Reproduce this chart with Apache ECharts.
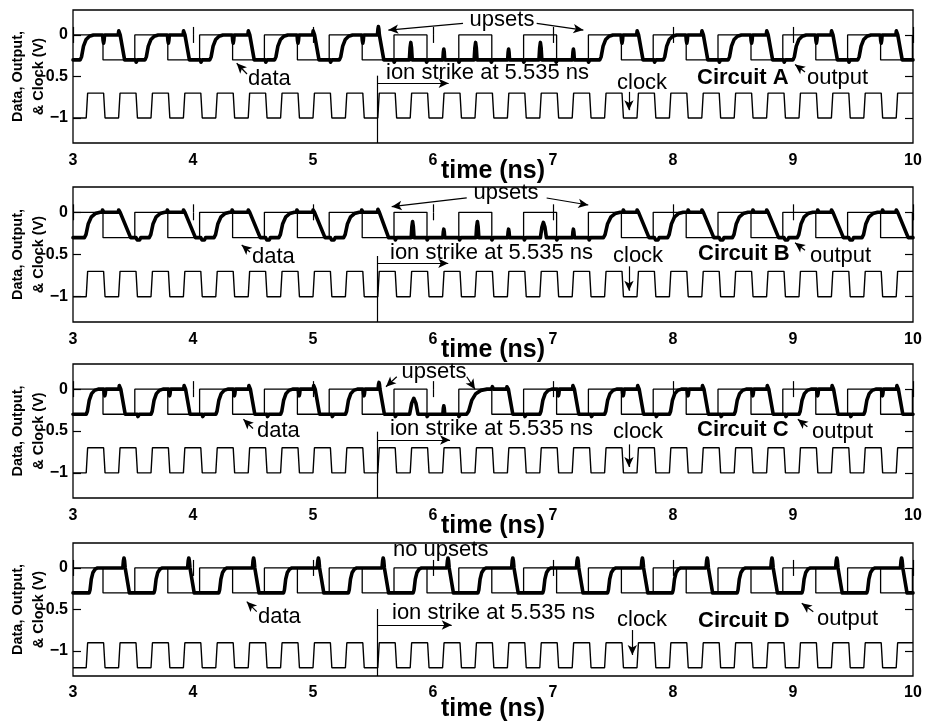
<!DOCTYPE html>
<html>
<head>
<meta charset="utf-8">
<script src="https://cdn.jsdelivr.net/npm/echarts/dist/echarts.min.js"></script>
<style>
  html, body { margin: 0; padding: 0; background: #fff; }
  #chart { width: 930px; height: 721px; }
</style>
</head>
<body>
<div id="chart"></div>
<script>
// ---------------- values (ns, V) ----------------
const timeTicks = [3, 4, 5, 6, 7, 8, 9, 10];
const voltTicks = [0, -0.5, -1];
const strikeTime = 5.535;

// clock edges (ns)
const clockRise = [3.11, 3.38, 3.65, 3.92, 4.19, 4.46, 4.73, 5.00, 5.27, 5.54, 5.81, 6.08, 6.35,
  6.62, 6.89, 7.16, 7.43, 7.70, 7.97, 8.24, 8.51, 8.78, 9.05, 9.32, 9.59, 9.86];
const clockFall = [3.255, 3.525, 3.795, 4.065, 4.335, 4.605, 4.875, 5.145, 5.415, 5.685, 5.955,
  6.225, 6.495, 6.765, 7.035, 7.305, 7.575, 7.845, 8.115, 8.385, 8.655, 8.925, 9.195, 9.465, 9.735];
// clock [low, high] levels for circuits A-C and for circuit D
const clockLevelABC = [-1.0, -0.7];
const clockLevelD = [-1.2, -0.9];

// data input edges (0 V high, -0.3 V low)
const dataFall = [3.25, 3.79, 4.33, 4.87, 5.41, 5.95, 6.49, 7.03, 7.57, 8.11, 8.65, 9.19, 9.73];
const dataRise = [3.515, 4.055, 4.595, 5.135, 5.675, 6.215, 6.755, 7.295, 7.835, 8.375, 8.915, 9.455, 9.995];

// output transitions: [start, end] of each rise / fall, glitches [t, base, peak, halfWidth]
const riseA = [[3.06, 3.17], [3.60, 3.71], [4.14, 4.25], [4.68, 4.79], [5.22, 5.33],
  [7.39, 7.50], [7.92, 8.03], [8.46, 8.57], [9.00, 9.11], [9.54, 9.65]];
const fallA = [[3.395, 3.43], [3.935, 3.97], [4.475, 4.51], [5.015, 5.05], [5.555, 5.59],
  [7.715, 7.75], [8.255, 8.29], [8.795, 8.83], [9.335, 9.37], [9.875, 9.91]];
const glitchA = [
  [3.255, 0, -0.10], [3.385, 0, 0.07], [3.53, -0.3, -0.34],
  [3.795, 0, -0.10], [3.925, 0, 0.07], [4.07, -0.3, -0.34],
  [4.335, 0, -0.10], [4.465, 0, 0.07], [4.61, -0.3, -0.34],
  [4.875, 0, -0.10], [5.005, 0, 0.07], [5.15, -0.3, -0.34],
  [5.415, 0, -0.10], [5.545, 0, 0.10],
  [5.68, -0.3, -0.34], [5.815, -0.3, -0.09, 0.012], [5.95, -0.3, -0.34], [6.09, -0.3, -0.17],
  [6.22, -0.3, -0.34], [6.355, -0.3, -0.09, 0.012], [6.49, -0.3, -0.34], [6.63, -0.3, -0.17],
  [6.76, -0.3, -0.34], [6.895, -0.3, -0.09, 0.012], [7.03, -0.3, -0.34], [7.17, -0.3, -0.17],
  [7.30, -0.3, -0.34],
  [7.575, 0, -0.10], [7.705, 0, 0.07], [7.85, -0.3, -0.34],
  [8.115, 0, -0.10], [8.245, 0, 0.07], [8.39, -0.3, -0.34],
  [8.655, 0, -0.10], [8.785, 0, 0.07], [8.93, -0.3, -0.34],
  [9.195, 0, -0.10], [9.325, 0, 0.07], [9.47, -0.3, -0.34],
  [9.735, 0, -0.10], [9.865, 0, 0.07]
];

const riseB = [[3.095, 3.225], [3.635, 3.765], [4.175, 4.305], [4.715, 4.845], [5.255, 5.385],
  [7.42, 7.56], [7.955, 8.085], [8.495, 8.625], [9.035, 9.165], [9.575, 9.705]];
const fallB = [[3.40, 3.48], [3.94, 4.02], [4.48, 4.56], [5.02, 5.10], [5.56, 5.63],
  [7.72, 7.80], [8.26, 8.34], [8.80, 8.88], [9.34, 9.42], [9.88, 9.96]];
const glitchB = [
  [3.25, 0, 0.04], [3.385, 0, 0.04], [3.545, -0.3, -0.34, 0.02],
  [3.79, 0, 0.04], [3.925, 0, 0.04], [4.085, -0.3, -0.34, 0.02],
  [4.33, 0, 0.04], [4.465, 0, 0.04], [4.625, -0.3, -0.34, 0.02],
  [4.87, 0, 0.04], [5.005, 0, 0.04], [5.165, -0.3, -0.34, 0.02],
  [5.41, 0, 0.04], [5.545, 0, 0.05],
  [5.69, -0.3, -0.34], [5.83, -0.3, -0.11, 0.012], [5.955, -0.3, -0.34], [6.09, -0.3, -0.20],
  [6.225, -0.3, -0.34], [6.37, -0.3, -0.11, 0.012], [6.495, -0.3, -0.34], [6.63, -0.3, -0.20],
  [6.765, -0.3, -0.34], [6.92, -0.3, -0.12, 0.025], [7.035, -0.3, -0.34], [7.17, -0.3, -0.20],
  [7.305, -0.3, -0.34],
  [7.59, 0, 0.04], [7.705, 0, 0.04], [7.865, -0.3, -0.34, 0.02],
  [8.13, 0, 0.04], [8.245, 0, 0.04], [8.405, -0.3, -0.34, 0.02],
  [8.67, 0, 0.04], [8.785, 0, 0.04], [8.945, -0.3, -0.34, 0.02],
  [9.21, 0, 0.04], [9.325, 0, 0.04], [9.485, -0.3, -0.34, 0.02],
  [9.75, 0, 0.04], [9.865, 0, 0.04]
];

const riseC = [[3.11, 3.21], [3.65, 3.75], [4.19, 4.29], [4.73, 4.83], [5.27, 5.37], [6.28, 6.45],
  [6.89, 6.99], [7.43, 7.53], [7.97, 8.07], [8.51, 8.61], [9.05, 9.15], [9.59, 9.69]];
const fallC = [[3.40, 3.435], [3.94, 3.975], [4.48, 4.515], [5.02, 5.055], [5.56, 5.595], [6.63, 6.665],
  [7.18, 7.215], [7.72, 7.755], [8.26, 8.295], [8.80, 8.835], [9.34, 9.375], [9.88, 9.915]];
const glitchC = [
  [3.265, 0, -0.08], [3.39, 0, 0.06], [3.545, -0.3, -0.34],
  [3.805, 0, -0.08], [3.93, 0, 0.06], [4.085, -0.3, -0.34],
  [4.345, 0, -0.08], [4.47, 0, 0.06], [4.625, -0.3, -0.34],
  [4.885, 0, -0.08], [5.01, 0, 0.06], [5.165, -0.3, -0.34],
  [5.425, 0, -0.08], [5.55, 0, 0.08],
  [5.69, -0.3, -0.34], [5.84, -0.3, -0.11, 0.035], [5.955, -0.3, -0.34], [6.09, -0.3, -0.20],
  [6.22, -0.3, -0.34],
  [6.495, 0, 0.03], [6.62, 0, 0.04], [6.77, -0.3, -0.34],
  [7.045, 0, -0.08], [7.17, 0, 0.06], [7.325, -0.3, -0.34],
  [7.585, 0, -0.08], [7.71, 0, 0.06], [7.865, -0.3, -0.34],
  [8.125, 0, -0.08], [8.25, 0, 0.06], [8.405, -0.3, -0.34],
  [8.665, 0, -0.08], [8.79, 0, 0.06], [8.945, -0.3, -0.34],
  [9.205, 0, -0.08], [9.33, 0, 0.06], [9.485, -0.3, -0.34],
  [9.745, 0, -0.08], [9.87, 0, 0.06]
];

const riseD = [[3.135, 3.205], [3.675, 3.745], [4.215, 4.285], [4.755, 4.825], [5.295, 5.365],
  [5.835, 5.905], [6.375, 6.445], [6.915, 6.985], [7.455, 7.525], [7.995, 8.065], [8.535, 8.605],
  [9.075, 9.145], [9.615, 9.685]];
const fallD = [[3.435, 3.47], [3.975, 4.01], [4.515, 4.55], [5.055, 5.09], [5.595, 5.63],
  [6.135, 6.17], [6.675, 6.71], [7.215, 7.25], [7.755, 7.79], [8.295, 8.33], [8.835, 8.87],
  [9.375, 9.41], [9.915, 9.95]];
const glitchD = [
  [3.425, 0, 0.12, 0.01], [3.555, -0.3, -0.32],
  [3.965, 0, 0.12, 0.01], [4.095, -0.3, -0.32],
  [4.505, 0, 0.12, 0.01], [4.635, -0.3, -0.32],
  [5.045, 0, 0.12, 0.01], [5.175, -0.3, -0.32],
  [5.585, 0, 0.12, 0.01], [5.715, -0.3, -0.32],
  [6.125, 0, 0.12, 0.01], [6.255, -0.3, -0.32],
  [6.665, 0, 0.12, 0.01], [6.795, -0.3, -0.32],
  [7.205, 0, 0.12, 0.01], [7.335, -0.3, -0.32],
  [7.745, 0, 0.12, 0.01], [7.875, -0.3, -0.32],
  [8.285, 0, 0.12, 0.01], [8.415, -0.3, -0.32],
  [8.825, 0, 0.12, 0.01], [8.955, -0.3, -0.32],
  [9.365, 0, 0.12, 0.01], [9.495, -0.3, -0.32],
  [9.905, 0, 0.12, 0.01]
];

// ---------------- waveform builders ----------------
const T0 = 3, T1 = 10;
const OUT_LO = -0.3, OUT_HI = 0;
// rounded charging curve used for the output rising edges
const RISE_SHAPE = [[0, 0], [0.1, 0.12], [0.25, 0.55], [0.45, 0.82], [0.7, 0.95], [1, 1]];
const BUMP_SHAPE = [[-1, 0], [-0.5, 0.7], [0, 1], [0.5, 0.7], [1, 0]];
const CLOCK_EDGE = 0.012;

function squareWave(rises, falls, lo, hi, startHigh, edge) {
  const ev = rises.map(t => [t, lo, hi]).concat(falls.map(t => [t, hi, lo]));
  ev.sort((a, b) => a[0] - b[0]);
  let level = startHigh ? hi : lo;
  const pts = [[T0, level]];
  ev.forEach(([t, a, b]) => {
    pts.push([t, a]);
    pts.push([Math.min(t + edge, T1), b]);
    level = b;
  });
  pts.push([T1, level]);
  return pts;
}

function outputWave(rises, falls, glitches) {
  const pts = [[T0, OUT_LO]];
  rises.forEach(([s, e]) => RISE_SHAPE.forEach(([u, f]) =>
    pts.push([s + u * (e - s), OUT_LO + f * (OUT_HI - OUT_LO)])));
  falls.forEach(([s, e]) => { pts.push([s, OUT_HI]); pts.push([e, OUT_LO]); });
  glitches.forEach(([t, base, peak, hw]) => {
    const w = hw || 0.008;
    BUMP_SHAPE.forEach(([u, f]) => pts.push([t + u * w, base + f * (peak - base)]));
  });
  pts.sort((a, b) => a[0] - b[0]);
  pts.push([T1, pts[pts.length - 1][1]]);
  return pts;
}

const dataWave = squareWave(dataRise, dataFall, OUT_LO, OUT_HI, true, 0);
const clockABC = squareWave(clockRise, clockFall, clockLevelABC[0], clockLevelABC[1], false, CLOCK_EDGE);
const clockD = squareWave(clockRise, clockFall, clockLevelD[0], clockLevelD[1], false, CLOCK_EDGE);

// ---------------- layout ----------------
const FONT = '"Liberation Sans", Arial, Helvetica, sans-serif';
const INK = '#000';

const panels = [
  { top: 10, height: 133, nameGap: 15.5, labelMargin: 10, clock: clockABC,
    out: outputWave(riseA, fallA, glitchA), strikeTop: -0.49, strikeArrowY: -0.582, strikeArrowEnd: 6.13,
    arrows: [[[6.25, 0.14], [5.628, 0.059]], [[6.864, 0.14], [7.253, 0.059]],
             [[4.45, -0.47], [4.364, -0.341]], [[7.633, -0.685], [7.633, -0.905]],
             [[9.10, -0.446], [9.017, -0.356]]],
    texts: [['upsets', 502, 20, 'center'], ['ion strike at 5.535 ns', 386, 72.5],
            ['data', 248, 79], ['clock', 617, 82.5], ['Circuit A', 697, 77.5, 'left', true],
            ['output', 807, 78]] },
  { top: 187, height: 135, nameGap: 16, labelMargin: 10, clock: clockABC,
    out: outputWave(riseB, fallB, glitchB), strikeTop: -0.518, strikeArrowY: -0.604, strikeArrowEnd: 6.127,
    arrows: [[[6.281, 0.170], [5.656, 0.067]], [[6.947, 0.170], [7.294, 0.087]],
             [[4.475, -0.47], [4.406, -0.387]], [[7.633, -0.64], [7.633, -0.93]],
             [[9.10, -0.45], [9.017, -0.36]]],
    texts: [['upsets', 506, 192.5, 'center'], ['ion strike at 5.535 ns', 390, 252.5],
            ['data', 252, 256.7], ['clock', 613, 256], ['Circuit B', 698, 254, 'left', true],
            ['output', 810, 256]] },
  { top: 364, height: 134, nameGap: 16, labelMargin: 10, clock: clockABC,
    out: outputWave(riseC, fallC, glitchC), strikeTop: -0.508, strikeArrowY: -0.607, strikeArrowEnd: 6.142,
    arrows: [[[5.698, 0.148], [5.608, 0.029]], [[6.281, 0.148], [6.35, -0.002]],
             [[4.50, -0.47], [4.42, -0.36]], [[7.633, -0.66], [7.633, -0.93]],
             [[9.12, -0.45], [9.04, -0.36]]],
    texts: [['upsets', 434, 372, 'center'], ['ion strike at 5.535 ns', 390, 429],
            ['data', 257, 431], ['clock', 613, 432], ['Circuit C', 697, 430, 'left', true],
            ['output', 812, 432]] },
  { top: 543, height: 133, nameGap: 20.5, labelMargin: 8.5, clock: clockD,
    out: outputWave(riseD, fallD, glitchD), strikeTop: -0.494, strikeArrowY: -0.686, strikeArrowEnd: 6.156,
    arrows: [[[4.531, -0.526], [4.448, -0.406]], [[7.661, -0.747], [7.661, -1.047]],
             [[9.169, -0.526], [9.073, -0.425]]],
    texts: [['no upsets', 393, 549.5], ['ion strike at 5.535 ns', 392, 612.5],
            ['data', 258, 616.7], ['clock', 617, 619.5], ['Circuit D', 698, 621, 'left', true],
            ['output', 817, 618.5]] }
];

const tickStyle = { show: true, inside: true, length: 8, lineStyle: { color: INK, width: 1.2 } };
const minusFmt = v => (v < 0 ? '\u2212' + Math.abs(v) : String(v));

const grids = [], xAxes = [], yAxes = [], series = [], graphic = [];
const nPanels = panels.length;

panels.forEach((p, i) => {
  grids.push({ left: 73, width: 840, top: p.top, height: p.height, show: true,
    outerBoundsMode: 'none', containLabel: false,
    borderColor: INK, borderWidth: 1.3, backgroundColor: 'transparent' });

  const xBase = { type: 'value', gridIndex: i, min: T0, max: T1, interval: 1,
    axisLine: { show: false }, splitLine: { show: false },
    axisTick: Object.assign({ customValues: timeTicks }, tickStyle) };
  xAxes[i] = Object.assign({}, xBase, {
    position: 'bottom',
    axisLabel: { customValues: timeTicks, color: INK, fontSize: 16, fontWeight: 'bold',
      fontFamily: FONT, margin: p.labelMargin, showMinLabel: true, showMaxLabel: true },
    name: 'time (ns)', nameLocation: 'middle', nameGap: p.nameGap, nameMoveOverlap: false,
    nameTextStyle: { color: INK, fontSize: 25, fontWeight: 'bold', fontFamily: FONT }
  });
  xAxes[nPanels + i] = Object.assign({}, xBase, { position: 'top', axisLabel: { show: false } });

  const yBase = { type: 'value', gridIndex: i, min: -1.3, max: 0.3,
    axisLine: { show: false }, splitLine: { show: false },
    axisTick: Object.assign({ customValues: voltTicks }, tickStyle) };
  yAxes[i] = Object.assign({}, yBase, {
    position: 'left',
    axisLabel: { customValues: voltTicks, formatter: minusFmt, color: INK, fontSize: 16,
      fontWeight: 'bold', fontFamily: FONT, margin: 5 },
    name: 'Data, Output,\n& Clock (V)', nameLocation: 'middle', nameRotate: 90, nameGap: 24,
    nameMoveOverlap: false,
    nameTextStyle: { color: INK, fontSize: 14.5, fontWeight: 'bold', fontFamily: FONT, lineHeight: 21 }
  });
  yAxes[nPanels + i] = Object.assign({}, yBase, { position: 'right', axisLabel: { show: false } });

  const marks = [
    [{ coord: [strikeTime, p.strikeTop], symbol: 'none' }, { coord: [strikeTime, -1.3], symbol: 'none' }],
    [{ coord: [strikeTime, p.strikeArrowY], symbol: 'none' }, { coord: [p.strikeArrowEnd, p.strikeArrowY], symbol: 'arrow' }]
  ].concat(p.arrows.map(([a, b]) => [{ coord: a, symbol: 'none' }, { coord: b, symbol: 'arrow' }]));

  series.push({
    name: 'data', type: 'line', xAxisIndex: i, yAxisIndex: i, data: dataWave,
    showSymbol: false, silent: true, z: 2, lineStyle: { color: INK, width: 1.3 }
  });
  series.push({
    name: 'clock', type: 'line', xAxisIndex: i, yAxisIndex: i, data: p.clock,
    showSymbol: false, silent: true, z: 2, lineStyle: { color: INK, width: 1.4 },
    markLine: { silent: true, symbolSize: [7, 10], label: { show: false },
      lineStyle: { color: INK, width: 1.2, type: 'solid' }, emphasis: { disabled: true },
      data: marks }
  });
  series.push({
    name: 'output', type: 'line', xAxisIndex: i, yAxisIndex: i, data: p.out,
    showSymbol: false, silent: true, z: 3,
    lineStyle: { color: INK, width: 3.6, join: 'round', cap: 'round' }
  });

  p.texts.forEach(([text, x, y, align, bold]) => graphic.push({
    type: 'text', x: x, y: y, silent: true, z: 50,
    style: { text: text, fill: INK, fontSize: 22, fontFamily: FONT,
      fontWeight: bold ? 'bold' : 'normal', align: align || 'left', verticalAlign: 'middle' }
  }));
});

const chart = echarts.init(document.getElementById('chart'));
chart.setOption({
  animation: false,
  backgroundColor: '#fff',
  grid: grids, xAxis: xAxes, yAxis: yAxes, series: series, graphic: graphic
});
</script>
</body>
</html>
